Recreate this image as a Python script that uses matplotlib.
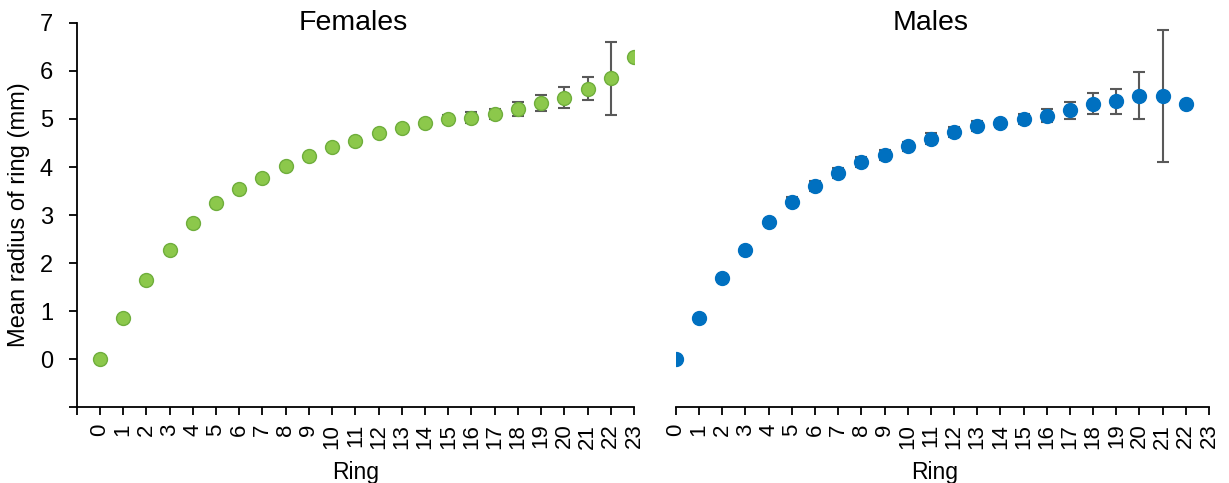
import numpy as np
import matplotlib
matplotlib.use("Agg")
import matplotlib.pyplot as plt

plt.rcParams['font.family'] = ['Liberation Sans', 'DejaVu Sans']

# mean ring radius (mm) and error
f_ring = list(range(24))
f_mean = [0.00, 0.86, 1.64, 2.27, 2.83, 3.25, 3.55, 3.77, 4.03, 4.22, 4.41, 4.55,
          4.70, 4.81, 4.92, 5.00, 5.03, 5.10, 5.21, 5.33, 5.44, 5.63, 5.85, 6.30]
f_err = [0.00, 0.02, 0.02, 0.03, 0.03, 0.03, 0.03, 0.03, 0.03, 0.03, 0.03, 0.03,
         0.04, 0.05, 0.06, 0.09, 0.11, 0.11, 0.14, 0.17, 0.22, 0.24, 0.76, 0.00]

m_ring = list(range(23))
m_mean = [0.00, 0.85, 1.68, 2.27, 2.86, 3.28, 3.61, 3.88, 4.10, 4.25, 4.43, 4.59,
          4.73, 4.85, 4.91, 5.00, 5.07, 5.18, 5.32, 5.37, 5.48, 5.48, 5.32]
m_err = [0.00, 0.02, 0.03, 0.04, 0.05, 0.10, 0.10, 0.10, 0.10, 0.10, 0.10, 0.11,
         0.10, 0.10, 0.07, 0.11, 0.14, 0.17, 0.22, 0.26, 0.49, 1.37, 0.00]

ring_labels = [str(i) for i in range(24)]

fig = plt.figure(figsize=(12.29, 4.83), dpi=100)
ax1 = fig.add_axes([0.0624, 0.1573, 0.4535, 0.7951])
ax2 = fig.add_axes([0.5500, 0.1573, 0.4337, 0.7951])

def panel(ax, x, y, e, face, edge):
    ax.errorbar(x, y, yerr=e, fmt='none', ecolor='#595959', elinewidth=1.5,
                capsize=4, capthick=1.5, zorder=2)
    ax.plot(x, y, 'o', ms=10, mfc=face, mec=edge, mew=1, ls='none', zorder=3)
    ax.set_ylim(-1, 7)
    for s in ['top', 'right']:
        ax.spines[s].set_visible(False)
    ax.spines['bottom'].set_linewidth(1.3)
    ax.spines['left'].set_linewidth(1.3)
    ax.tick_params(axis='x', length=6, width=1.3, labelsize=16, labelrotation=90, pad=6)
    ax.tick_params(axis='y', length=6, width=1.3, labelsize=17, pad=11)

panel(ax1, f_ring, f_mean, f_err, '#8CC84B', '#6FAE3C')
panel(ax2, m_ring, m_mean, m_err, '#0070C0', '#0070C0')

ax1.set_xlim(-1, 23)
ax1.set_xticks(range(-1, 24))
ax1.set_xticklabels([''] + ring_labels)
ax1.set_yticks(range(-1, 8))
ax1.set_yticklabels([''] + [str(i) for i in range(8)])
ax1.set_ylabel('Mean radius of ring (mm)', fontsize=17)
ax1.yaxis.set_label_coords(-0.084, 0.5)
ax1.set_xlabel('Ring', fontsize=16.5)
ax1.xaxis.set_label_coords(0.5, -0.14)
ax1.text(0.497, 1.0, 'Females', transform=ax1.transAxes, ha='center', va='center', fontsize=20.5)

ax2.set_xlim(0, 23)
ax2.set_xticks(range(24))
ax2.set_xticklabels(ring_labels)
ax2.spines['left'].set_visible(False)
ax2.set_yticks([])
ax2.set_xlabel('Ring', fontsize=16.5)
ax2.xaxis.set_label_coords(0.486, -0.14)
ax2.text(0.477, 1.0, 'Males', transform=ax2.transAxes, ha='center', va='center', fontsize=20.5)

fig.savefig('out.png', dpi=100)
